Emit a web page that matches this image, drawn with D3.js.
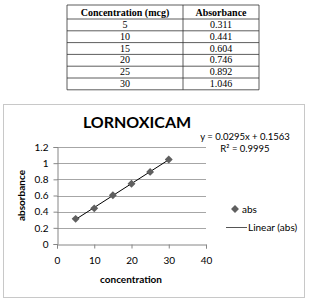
<!DOCTYPE html>
<html>
<head>
<meta charset="utf-8">
<script src="https://cdn.jsdelivr.net/npm/d3@7"></script>
<style>
  body { margin: 0; background: #fff; }
  svg { display: block; }
</style>
</head>
<body>
<div class="container"></div>
<script>
const width = 310;
const height = 302;

const concentration = [5, 10, 15, 20, 25, 30];
const absorbance = [0.311, 0.441, 0.604, 0.746, 0.892, 1.046];
const absLabels = ['0.311', '0.441', '0.604', '0.746', '0.892', '1.046'];
const tableHeaders = ['Concentration (mcg)', 'Absorbance'];
const xTicks = [0, 10, 20, 30, 40];
const yTicks = [0, 0.2, 0.4, 0.6, 0.8, 1, 1.2];
const equationText = 'y = 0.0295x + 0.1563';
const r2Text = 'R² = 0.9995';

const svg = d3.select('.container')
  .append('svg')
  .attr('width', width)
  .attr('height', height);

// table
const colX = [67, 183, 259];
const rowY = d3.range(8).map(i => i === 0 ? 5 : 19 + (i - 1) * 11.8);
const table = svg.append('g').attr('font-family', '"Liberation Serif", serif').attr('font-size', 10).attr('fill', '#000');

table.selectAll('line.h')
  .data(rowY)
  .enter()
  .append('line')
  .attr('x1', colX[0]).attr('x2', colX[2])
  .attr('y1', d => d).attr('y2', d => d)
  .attr('stroke', '#333').attr('stroke-width', 0.8);

table.selectAll('line.v')
  .data(colX)
  .enter()
  .append('line')
  .attr('x1', d => d).attr('x2', d => d)
  .attr('y1', rowY[0]).attr('y2', rowY[rowY.length - 1])
  .attr('stroke', '#333').attr('stroke-width', 0.8);

table.selectAll('text.head')
  .data(tableHeaders)
  .enter()
  .append('text')
  .attr('x', (d, i) => (colX[i] + colX[i + 1]) / 2)
  .attr('y', 15.5)
  .attr('text-anchor', 'middle')
  .attr('font-weight', 'bold')
  .text(d => d);

const rows = table.selectAll('g.row')
  .data(concentration)
  .enter()
  .append('g');

rows.append('text')
  .attr('x', (colX[0] + colX[1]) / 2)
  .attr('y', (d, i) => rowY[i + 1] + 9)
  .attr('text-anchor', 'middle')
  .text(d => d);

rows.append('text')
  .attr('x', (colX[1] + colX[2]) / 2)
  .attr('y', (d, i) => rowY[i + 1] + 9)
  .attr('text-anchor', 'middle')
  .text((d, i) => absLabels[i]);

// chart box
svg.append('rect')
  .attr('x', 3.5).attr('y', 104.5)
  .attr('width', 301).attr('height', 193)
  .attr('fill', '#fff')
  .attr('stroke', '#c8c8c8');

const x = d3.scaleLinear().domain([0, 40]).range([57, 206]);
const y = d3.scaleLinear().domain([0, 1.2]).range([244, 147]);

const chart = svg.append('g').attr('font-family', 'Lato, sans-serif').attr('fill', '#000');

chart.append('g')
  .selectAll('line')
  .data(yTicks.slice(1))
  .enter()
  .append('line')
  .attr('x1', x(0)).attr('x2', x(40))
  .attr('y1', d => Math.round(y(d)) + 0.5).attr('y2', d => Math.round(y(d)) + 0.5)
  .attr('stroke', '#a6a6a6');

const yAxis = chart.append('g')
  .attr('transform', `translate(${x(0) + 0.5},0)`)
  .call(d3.axisLeft(y).tickValues(yTicks).tickSize(4).tickPadding(5).tickFormat(d3.format('~g')));

const xAxis = chart.append('g')
  .attr('transform', `translate(0,${Math.round(y(0)) + 0.5})`)
  .call(d3.axisBottom(x).tickValues(xTicks).tickSize(4).tickPadding(8));

[yAxis, xAxis].forEach(a => {
  a.select('.domain').attr('stroke', '#868686');
  a.selectAll('.tick line').attr('stroke', '#868686');
  a.selectAll('.tick text').attr('font-family', 'Lato, sans-serif').attr('font-size', 10).attr('fill', '#000');
});

// linear trend line from least squares
const mx = d3.mean(concentration);
const my = d3.mean(absorbance);
const slope = d3.sum(concentration, (c, i) => (c - mx) * (absorbance[i] - my)) / d3.sum(concentration, c => (c - mx) ** 2);
const intercept = my - slope * mx;
const xr = d3.extent(concentration);

chart.append('line')
  .attr('x1', x(xr[0])).attr('y1', y(slope * xr[0] + intercept))
  .attr('x2', x(xr[1])).attr('y2', y(slope * xr[1] + intercept))
  .attr('stroke', '#000').attr('stroke-width', 1);

const diamond = d3.symbol().type(d3.symbolDiamond2).size(40);

chart.append('g')
  .selectAll('path')
  .data(concentration)
  .enter()
  .append('path')
  .attr('d', diamond)
  .attr('transform', (d, i) => `translate(${x(d)},${y(absorbance[i])})`)
  .attr('fill', '#5f5f5f');

// titles
chart.append('text')
  .attr('x', 137).attr('y', 128)
  .attr('text-anchor', 'middle')
  .attr('font-weight', 'bold').attr('font-size', 16)
  .text('LORNOXICAM');

chart.append('text')
  .attr('x', 245).attr('y', 140)
  .attr('text-anchor', 'middle')
  .attr('font-size', 9.5)
  .text(equationText);

chart.append('text')
  .attr('x', 245).attr('y', 152)
  .attr('text-anchor', 'middle')
  .attr('font-size', 9.5)
  .text(r2Text);

chart.append('text')
  .attr('transform', `translate(25,${(y(0) + y(1.2)) / 2}) rotate(-90)`)
  .attr('text-anchor', 'middle')
  .attr('font-weight', 'bold').attr('font-size', 10)
  .text('absorbance');

chart.append('text')
  .attr('x', 131).attr('y', 283)
  .attr('text-anchor', 'middle')
  .attr('font-weight', 'bold').attr('font-size', 10)
  .text('concentration');

// legend
chart.append('path')
  .attr('d', diamond)
  .attr('transform', 'translate(235,209)')
  .attr('fill', '#5f5f5f');

chart.append('text')
  .attr('x', 242).attr('y', 212.5)
  .attr('font-size', 10)
  .text('abs');

chart.append('line')
  .attr('x1', 226).attr('x2', 247)
  .attr('y1', 227.5).attr('y2', 227.5)
  .attr('stroke', '#555');

chart.append('text')
  .attr('x', 248).attr('y', 231)
  .attr('font-size', 10)
  .text('Linear (abs)');
</script>
</body>
</html>
